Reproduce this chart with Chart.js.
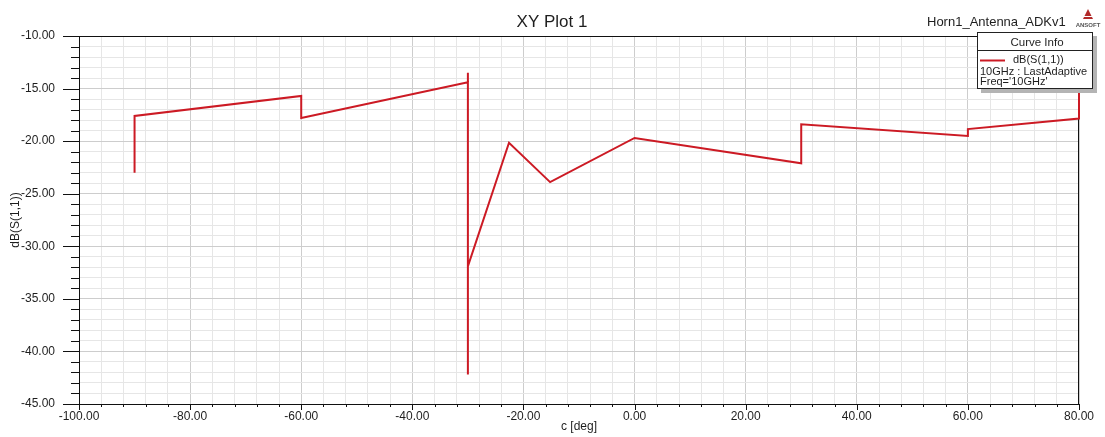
<!DOCTYPE html>
<html>
<head>
<meta charset="utf-8">
<script src="https://cdn.jsdelivr.net/npm/chart.js@4/dist/chart.umd.min.js"></script>
<style>
  html, body { margin: 0; padding: 0; background: #fff; }
  canvas { display: block; }
</style>
</head>
<body>
<canvas id="plot" width="1105" height="437"></canvas>
<script>
// Swept angle c (deg) and return loss dB(S(1,1)) at 10 GHz
const cDeg  = [-90,   -90,   -60,   -60,   -30,   -30,   -30,   -30,   -22.6,  -15.2, 0,     30,    30,    60,    60,     80,     80];
const s11dB = [-23.0, -17.6, -15.7, -17.8, -14.4, -13.5, -42.2, -31.9, -20.15, -23.9, -19.7, -22.1, -18.4, -19.5, -18.85, -17.85, -14.0];

// Labelled axis ticks
const xMajorTicks = [-100, -80, -60, -40, -20, 0, 20, 40, 60, 80];
const yMajorTicks = [-45, -40, -35, -30, -25, -20, -15, -10];

// Header / curve-info texts
const plotTitle   = 'XY Plot 1';
const projectName = 'Horn1_Antenna_ADKv1';
const curveInfo   = ['Curve Info', 'dB(S(1,1))', '10GHz : LastAdaptive', "Freq='10GHz'"];

const FONT = "'Liberation Sans', Arial, sans-serif";
const TXT = '#1e1e1e';
const RED = '#cc1a24';

const points = cDeg.map((c, i) => ({ x: c, y: s11dB[i] }));

function gridColor(major) {
  return ctx => (ctx.tick && major.includes(ctx.tick.value)) ? '#cdcdcd' : '#e6e6e6';
}

// Frame, outward tick marks, header texts and curve info box
const decorations = {
  id: 'decorations',
  beforeDatasetsDraw(chart) {
    const { ctx, chartArea: a, scales } = chart;
    ctx.save();
    ctx.strokeStyle = '#111';
    ctx.lineWidth = 1;
    ctx.strokeRect(Math.round(a.left) + 0.5, Math.round(a.top) + 0.5,
                   Math.round(a.right - a.left) - 1, Math.round(a.bottom - a.top));
    // y ticks, pointing left
    ctx.beginPath();
    scales.y.ticks.forEach(t => {
      const y = Math.round(scales.y.getPixelForValue(t.value)) + 0.5;
      const len = yMajorTicks.includes(t.value) ? 16 : 8;
      ctx.moveTo(a.left - len, y);
      ctx.lineTo(a.left, y);
    });
    // x ticks, pointing down
    scales.x.ticks.forEach(t => {
      const x = Math.round(scales.x.getPixelForValue(t.value)) + 0.5;
      const len = xMajorTicks.includes(t.value) ? 6 : 3;
      ctx.moveTo(x, a.bottom);
      ctx.lineTo(x, a.bottom + len);
    });
    ctx.stroke();
    ctx.restore();
  },
  afterDraw(chart) {
    const { ctx } = chart;
    ctx.save();
    ctx.fillStyle = TXT;
    ctx.textBaseline = 'alphabetic';
    ctx.textAlign = 'center';
    ctx.font = `17px ${FONT}`;
    ctx.fillText(plotTitle, 552, 27);
    ctx.textAlign = 'left';
    ctx.font = `13px ${FONT}`;
    ctx.fillText(projectName, 927, 26);

    // small vendor mark
    ctx.fillStyle = '#b22a2a';
    ctx.beginPath();
    ctx.moveTo(1088, 9); ctx.lineTo(1093, 19); ctx.lineTo(1083, 19); ctx.closePath();
    ctx.fill();
    ctx.fillStyle = '#fff';
    ctx.fillRect(1084, 16, 8, 1);
    ctx.fillStyle = '#555';
    ctx.font = `bold 6px ${FONT}`;
    ctx.textAlign = 'center';
    ctx.fillText('ANSOFT', 1088, 27);

    // curve info box
    const bx = 977, by = 32, bw = 116, bh = 57;
    ctx.fillStyle = '#b4b4b4';
    ctx.fillRect(bx + 4, by + 4, bw, bh);
    ctx.fillStyle = '#fff';
    ctx.fillRect(bx, by, bw, bh);
    ctx.strokeStyle = '#222';
    ctx.lineWidth = 1;
    ctx.strokeRect(bx + 0.5, by + 0.5, bw - 1, bh - 1);
    ctx.beginPath();
    ctx.moveTo(bx, by + 18.5); ctx.lineTo(bx + bw, by + 18.5);
    ctx.stroke();
    ctx.fillStyle = TXT;
    ctx.font = `11.5px ${FONT}`;
    ctx.textAlign = 'center';
    ctx.fillText(curveInfo[0], bx + bw / 2 + 2, 46);
    ctx.strokeStyle = RED;
    ctx.lineWidth = 2;
    ctx.beginPath();
    ctx.moveTo(980, 60.5); ctx.lineTo(1005, 60.5);
    ctx.stroke();
    ctx.textAlign = 'left';
    ctx.font = `11px ${FONT}`;
    ctx.fillText(curveInfo[1], 1013, 63);
    ctx.fillText(curveInfo[2], 980, 74.5);
    ctx.fillText(curveInfo[3], 980, 85);
    ctx.restore();
  }
};

new Chart(document.getElementById('plot'), {
  type: 'line',
  data: {
    datasets: [{
      label: 'dB(S(1,1))',
      data: points,
      borderColor: RED,
      borderWidth: 2,
      pointRadius: 0,
      tension: 0,
      fill: false,
      clip: false
    }]
  },
  options: {
    responsive: false,
    animation: false,
    devicePixelRatio: 1,
    layout: { padding: { top: 36, right: 26, left: 0, bottom: 0 } },
    plugins: {
      legend: { display: false },
      tooltip: { enabled: false },
      title: { display: false }
    },
    scales: {
      x: {
        type: 'linear',
        min: -100,
        max: 80,
        afterFit: s => { s.height = 33; },
        ticks: {
          stepSize: 4,
          autoSkip: false,
          maxRotation: 0,
          padding: 5,
          color: TXT,
          font: { family: FONT, size: 12 },
          callback: v => xMajorTicks.includes(v) ? v.toFixed(2) : ''
        },
        grid: { drawTicks: false, color: gridColor(xMajorTicks), lineWidth: 1 },
        border: { display: false },
        title: {
          display: true,
          text: 'c [deg]',
          color: TXT,
          font: { family: FONT, size: 12 },
          padding: { top: 0, bottom: 3 }
        }
      },
      y: {
        type: 'linear',
        min: -45,
        max: -10,
        afterFit: s => { s.width = 79; },
        ticks: {
          stepSize: 1,
          autoSkip: false,
          padding: 24,
          color: TXT,
          font: { family: FONT, size: 12 },
          callback: v => yMajorTicks.includes(v) ? v.toFixed(2) : ''
        },
        grid: { drawTicks: false, color: gridColor(yMajorTicks), lineWidth: 1 },
        border: { display: false },
        title: {
          display: true,
          text: 'dB(S(1,1))',
          color: TXT,
          font: { family: FONT, size: 12 },
          padding: { top: 8, bottom: 0 }
        }
      }
    }
  },
  plugins: [decorations]
});
</script>
</body>
</html>
